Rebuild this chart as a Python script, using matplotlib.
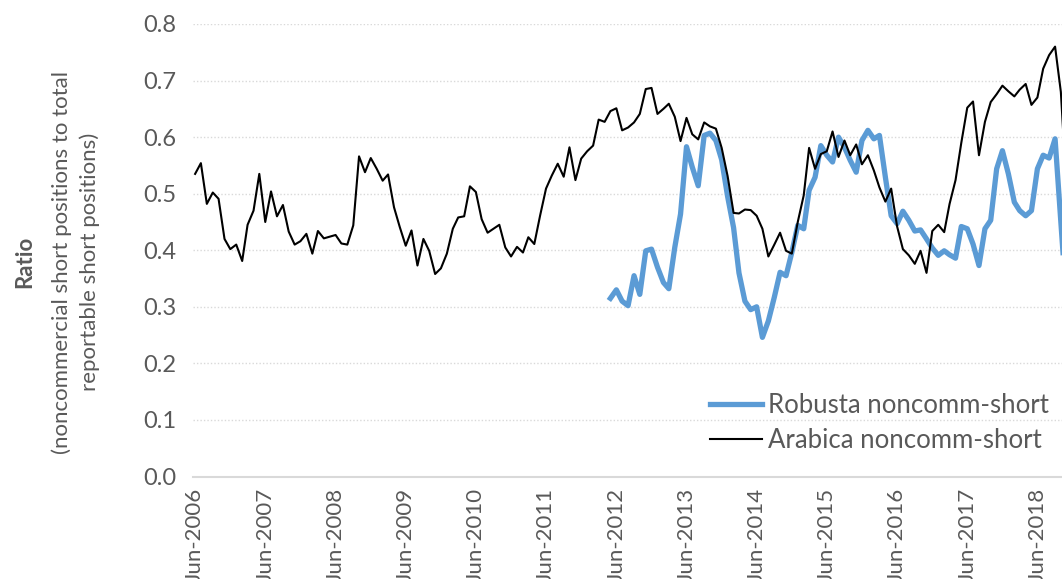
import numpy as np
import pandas as pd
import matplotlib
matplotlib.use('Agg')
import matplotlib.pyplot as plt
import matplotlib.dates as mdates

plt.rcParams['font.family'] = ['Lato', 'DejaVu Sans']

# monthly ratios, Jun-2006 onward
arabica = [
    0.535, 0.554, 0.482, 0.502, 0.491, 0.420, 0.402, 0.410, 0.381, 0.445,
    0.470, 0.535, 0.450, 0.504, 0.460, 0.480, 0.433, 0.410, 0.416, 0.429,
    0.394, 0.434, 0.421, 0.424, 0.427, 0.412, 0.410, 0.444, 0.566, 0.538,
    0.563, 0.544, 0.523, 0.534, 0.476, 0.441, 0.408, 0.435, 0.373, 0.420,
    0.399, 0.358, 0.368, 0.394, 0.438, 0.458, 0.460, 0.513, 0.503, 0.455,
    0.431, 0.438, 0.445, 0.405, 0.389, 0.406, 0.396, 0.423, 0.411, 0.461,
    0.509, 0.532, 0.553, 0.530, 0.582, 0.524, 0.562, 0.575, 0.585, 0.631,
    0.627, 0.646, 0.651, 0.612, 0.617, 0.626, 0.641, 0.685, 0.687, 0.641,
    0.650, 0.659, 0.636, 0.593, 0.634, 0.605, 0.596, 0.626, 0.619, 0.615,
    0.581, 0.531, 0.466, 0.465, 0.472, 0.471, 0.461, 0.438, 0.389, 0.410,
    0.431, 0.399, 0.394, 0.450, 0.497, 0.581, 0.544, 0.570, 0.575, 0.610,
    0.565, 0.594, 0.568, 0.587, 0.552, 0.568, 0.541, 0.511, 0.486, 0.509,
    0.442, 0.402, 0.391, 0.376, 0.399, 0.360, 0.434, 0.445, 0.432, 0.482,
    0.524, 0.590, 0.652, 0.663, 0.568, 0.627, 0.662, 0.676, 0.691, 0.681,
    0.672, 0.684, 0.694, 0.657, 0.670, 0.721, 0.745, 0.760, 0.680, 0.500,
]

# robusta starts May-2012
robusta = [
    0.315, 0.330, 0.310, 0.302, 0.355, 0.322, 0.399, 0.402, 0.370, 0.343,
    0.332, 0.405, 0.464, 0.583, 0.547, 0.514, 0.603, 0.607, 0.594, 0.560,
    0.495, 0.440, 0.360, 0.310, 0.295, 0.300, 0.246, 0.275, 0.317, 0.361,
    0.355, 0.396, 0.444, 0.438, 0.506, 0.529, 0.585, 0.568, 0.556, 0.600,
    0.582, 0.559, 0.538, 0.594, 0.612, 0.597, 0.603, 0.529, 0.461, 0.447,
    0.469, 0.453, 0.434, 0.436, 0.420, 0.404, 0.391, 0.399, 0.392, 0.386,
    0.442, 0.438, 0.411, 0.373, 0.438, 0.453, 0.544, 0.576, 0.535, 0.485,
    0.470, 0.461, 0.470, 0.544, 0.568, 0.563, 0.597, 0.450, 0.300,
]

dates_a = pd.date_range('2006-06-01', periods=len(arabica), freq='MS')
dates_r = pd.date_range('2012-05-01', periods=len(robusta), freq='MS')
tick_dates = pd.date_range('2006-06-01', '2018-06-01', freq='12MS')

grey = '#595959'
fs = 17

fig = plt.figure(figsize=(10.62, 5.79), dpi=100)
ax = fig.add_axes([193 / 1062, 102.5 / 579, 869 / 1062, 452.5 / 579])

ax.plot(dates_r, robusta, color='#5B9BD5', lw=3.8, label='Robusta noncomm-short',
        solid_joinstyle='round', zorder=2)
ax.plot(dates_a, arabica, color='black', lw=1.5, label='Arabica noncomm-short', zorder=3)

ax.set_ylim(0, 0.8)
ax.set_xlim(dates_a[0] - pd.Timedelta(days=11), dates_a[148] + pd.Timedelta(days=6))
ax.set_yticks(np.arange(0, 0.81, 0.1))
ax.yaxis.set_major_formatter(plt.FormatStrFormatter('%.1f'))
ax.set_xticks(tick_dates)
ax.xaxis.set_major_formatter(mdates.DateFormatter('%b-%Y'))
ax.tick_params(axis='y', length=0, pad=12, labelsize=fs, labelcolor=grey)
ax.tick_params(axis='x', length=0, pad=8, labelsize=16, labelcolor=grey, labelrotation=90)

ax.yaxis.grid(True, color='#d9d9d9', linestyle=(0, (1, 1.5)), lw=1)
ax.set_axisbelow(True)
for s in ['top', 'right', 'left']:
    ax.spines[s].set_visible(False)
ax.spines['bottom'].set_color('#d9d9d9')
ax.spines['bottom'].set_linewidth(1.5)

ax.legend(loc='upper left', bbox_to_anchor=(687 / 1062, 1 - 370 / 579),
          bbox_transform=fig.transFigure, frameon=False, fontsize=18.5,
          labelcolor=grey, handlelength=2.0, handletextpad=0.25, labelspacing=0.4)

# y axis title
cy = 1 - 262 / 579
fig.text(25 / 1062, cy, 'Ratio', rotation=90, ha='center', va='center',
         fontsize=16, fontweight='bold', color=grey)
fig.text(62 / 1062, cy, '(noncommercial short positions to total', rotation=90,
         ha='center', va='center', fontsize=16, color=grey)
fig.text(90 / 1062, cy, 'reportable short positions)', rotation=90,
         ha='center', va='center', fontsize=16, color=grey)

fig.savefig('out.png', dpi=100)
